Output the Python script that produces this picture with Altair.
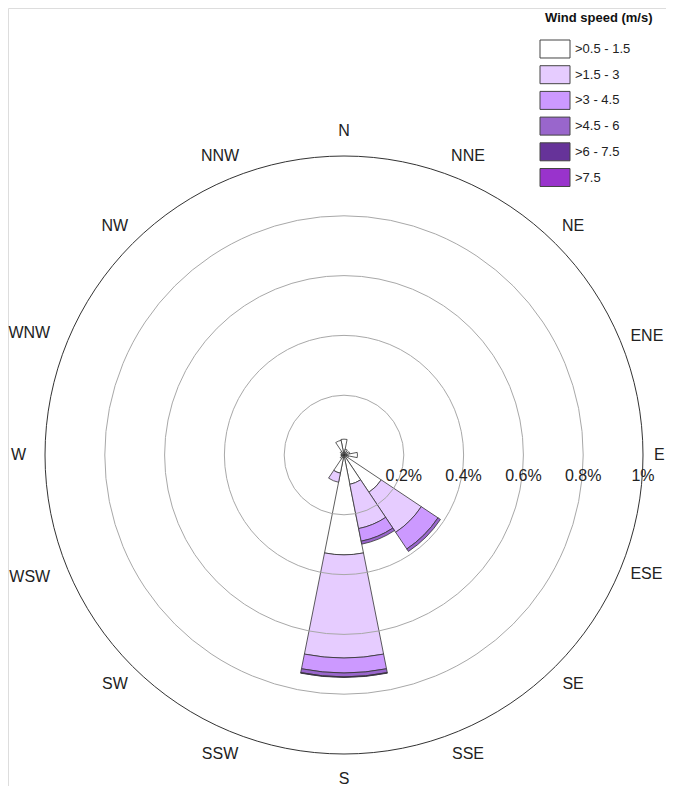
import math
import altair as alt
import pandas as pd

# ---- data -------------------------------------------------------------
directions = ["N", "NNE", "NE", "ENE", "E", "ESE", "SE", "SSE",
              "S", "SSW", "SW", "WSW", "W", "WNW", "NW", "NNW"]
speed_classes = [">0.5 - 1.5", ">1.5 - 3", ">3 - 4.5", ">4.5 - 6", ">6 - 7.5", ">7.5"]
class_colors = ["#FFFFFF", "#E6CCFF", "#CC99FF", "#9966CC", "#663399", "#9933CC"]

# frequency (%) of each speed class per direction
freq_05_15 = [0.053, 0.020, 0.015, 0.020, 0.045, 0.015, 0.150, 0.100,
              0.334, 0.062, 0.015, 0.010, 0.010, 0.010, 0.015, 0.050]
freq_15_3 = [0, 0, 0, 0, 0, 0, 0.161, 0.151,
             0.345, 0.031, 0, 0, 0, 0, 0, 0]
freq_3_45 = [0, 0, 0, 0, 0, 0, 0.067, 0.043,
             0.050, 0, 0, 0, 0, 0, 0, 0]
freq_45_6 = [0, 0, 0, 0, 0, 0, 0.010, 0.010,
             0.013, 0, 0, 0, 0, 0, 0, 0]
freq_6_75 = [0, 0, 0, 0, 0, 0, 0, 0,
             0.002, 0, 0, 0, 0, 0, 0, 0]
freq_75 = [0] * 16

ring_values = [0.2, 0.4, 0.6, 0.8, 1.0]
ring_labels = ["0.2%", "0.4%", "0.6%", "0.8%", "1%"]

# ---- build stacked table -------------------------------------------------
series = [freq_05_15, freq_15_3, freq_3_45, freq_45_6, freq_6_75, freq_75]
sector = 360 / len(directions)
rows = []
for i, d in enumerate(directions):
    cum = 0.0
    for k, s in enumerate(series):
        v = s[i]
        if v > 0:
            rows.append(dict(dir=d, cls=speed_classes[k], order=k,
                             r0=cum, r1=cum + v,
                             t0=i * sector - sector / 2, t1=i * sector + sector / 2))
            cum += v
df = pd.DataFrame(rows)
dir_df = pd.DataFrame({"dir": directions,
                       "bearing": [i * sector for i in range(len(directions))]})
rings_df = pd.DataFrame({"ring": ring_values, "label": ring_labels})

# ---- chart -------------------------------------------------------------
cx, cy = 336, 447
theta_scale = alt.Scale(domain=[0, 360], range=[0, 2 * math.pi])
r_scale = alt.Scale(type="linear", domain=[0, 1], range=[0, 299], zero=True)
FONT = "Liberation Sans, Arial, sans-serif"

sectors = alt.Chart(df).mark_arc(stroke="#333333", strokeWidth=0.8).encode(
    x=alt.value(cx), y=alt.value(cy),
    theta=alt.Theta("t0:Q", scale=theta_scale, stack=None),
    theta2="t1:Q",
    radius=alt.Radius("r1:Q", scale=r_scale, stack=None),
    radius2="r0:Q",
    color=alt.Color(
        "cls:N",
        scale=alt.Scale(domain=speed_classes, range=class_colors),
        legend=alt.Legend(
            title="Wind speed (m/s)", orient="none", legendX=537, legendY=4,
            symbolType="M-1.579,-0.947H1.579V0.947H-1.579Z", symbolSize=361,
            symbolStrokeColor="#444444", symbolStrokeWidth=1, symbolOpacity=1,
            labelFontSize=13, labelOffset=10, labelColor="#222222", labelFont=FONT,
            titleFontSize=13, titleFontWeight="bold", titleColor="#111111",
            titleFont=FONT, titlePadding=14, rowPadding=3.7, padding=0,
        ),
    ),
    order=alt.Order("order:Q"),
)

grid = alt.Chart(rings_df).mark_arc(filled=False, strokeWidth=1).encode(
    x=alt.value(cx), y=alt.value(cy),
    theta=alt.value(0), theta2=alt.value(2 * math.pi),
    radius=alt.Radius("ring:Q", scale=r_scale, stack=None),
    stroke=alt.condition("datum.ring >= 1", alt.value("#333333"), alt.value("#A8A8A8")),
)

ring_text = alt.Chart(rings_df).mark_text(
    fontSize=16, dy=21, color="#222222", font=FONT
).encode(
    x=alt.value(cx), y=alt.value(cy),
    theta=alt.value(math.pi / 2),
    radius=alt.Radius("ring:Q", scale=r_scale, stack=None),
    text="label:N",
)


def compass_labels(filter_expr, align, radius):
    return alt.Chart(dir_df).transform_filter(filter_expr).mark_text(
        fontSize=16, color="#222222", font=FONT, align=align, baseline="middle"
    ).encode(
        x=alt.value(cx), y=alt.value(cy),
        theta=alt.Theta("bearing:Q", scale=theta_scale, stack=None),
        radius=alt.value(radius),
        text="dir:N",
    )


east_labels = compass_labels("datum.bearing > 60 && datum.bearing < 120", "left", 310)
west_labels = compass_labels("datum.bearing > 240 && datum.bearing < 300", "right", 318)
other_labels = compass_labels(
    "!(datum.bearing > 60 && datum.bearing < 120) && !(datum.bearing > 240 && datum.bearing < 300)",
    "center", 324)

chart = alt.layer(sectors, grid, ring_text, east_labels, west_labels, other_labels).properties(
    width=658, height=778, padding=0, autosize="none"
).configure_view(stroke=None).configure(font=FONT)

chart.save("out.html", embed_options={"renderer": "svg", "actions": False})
